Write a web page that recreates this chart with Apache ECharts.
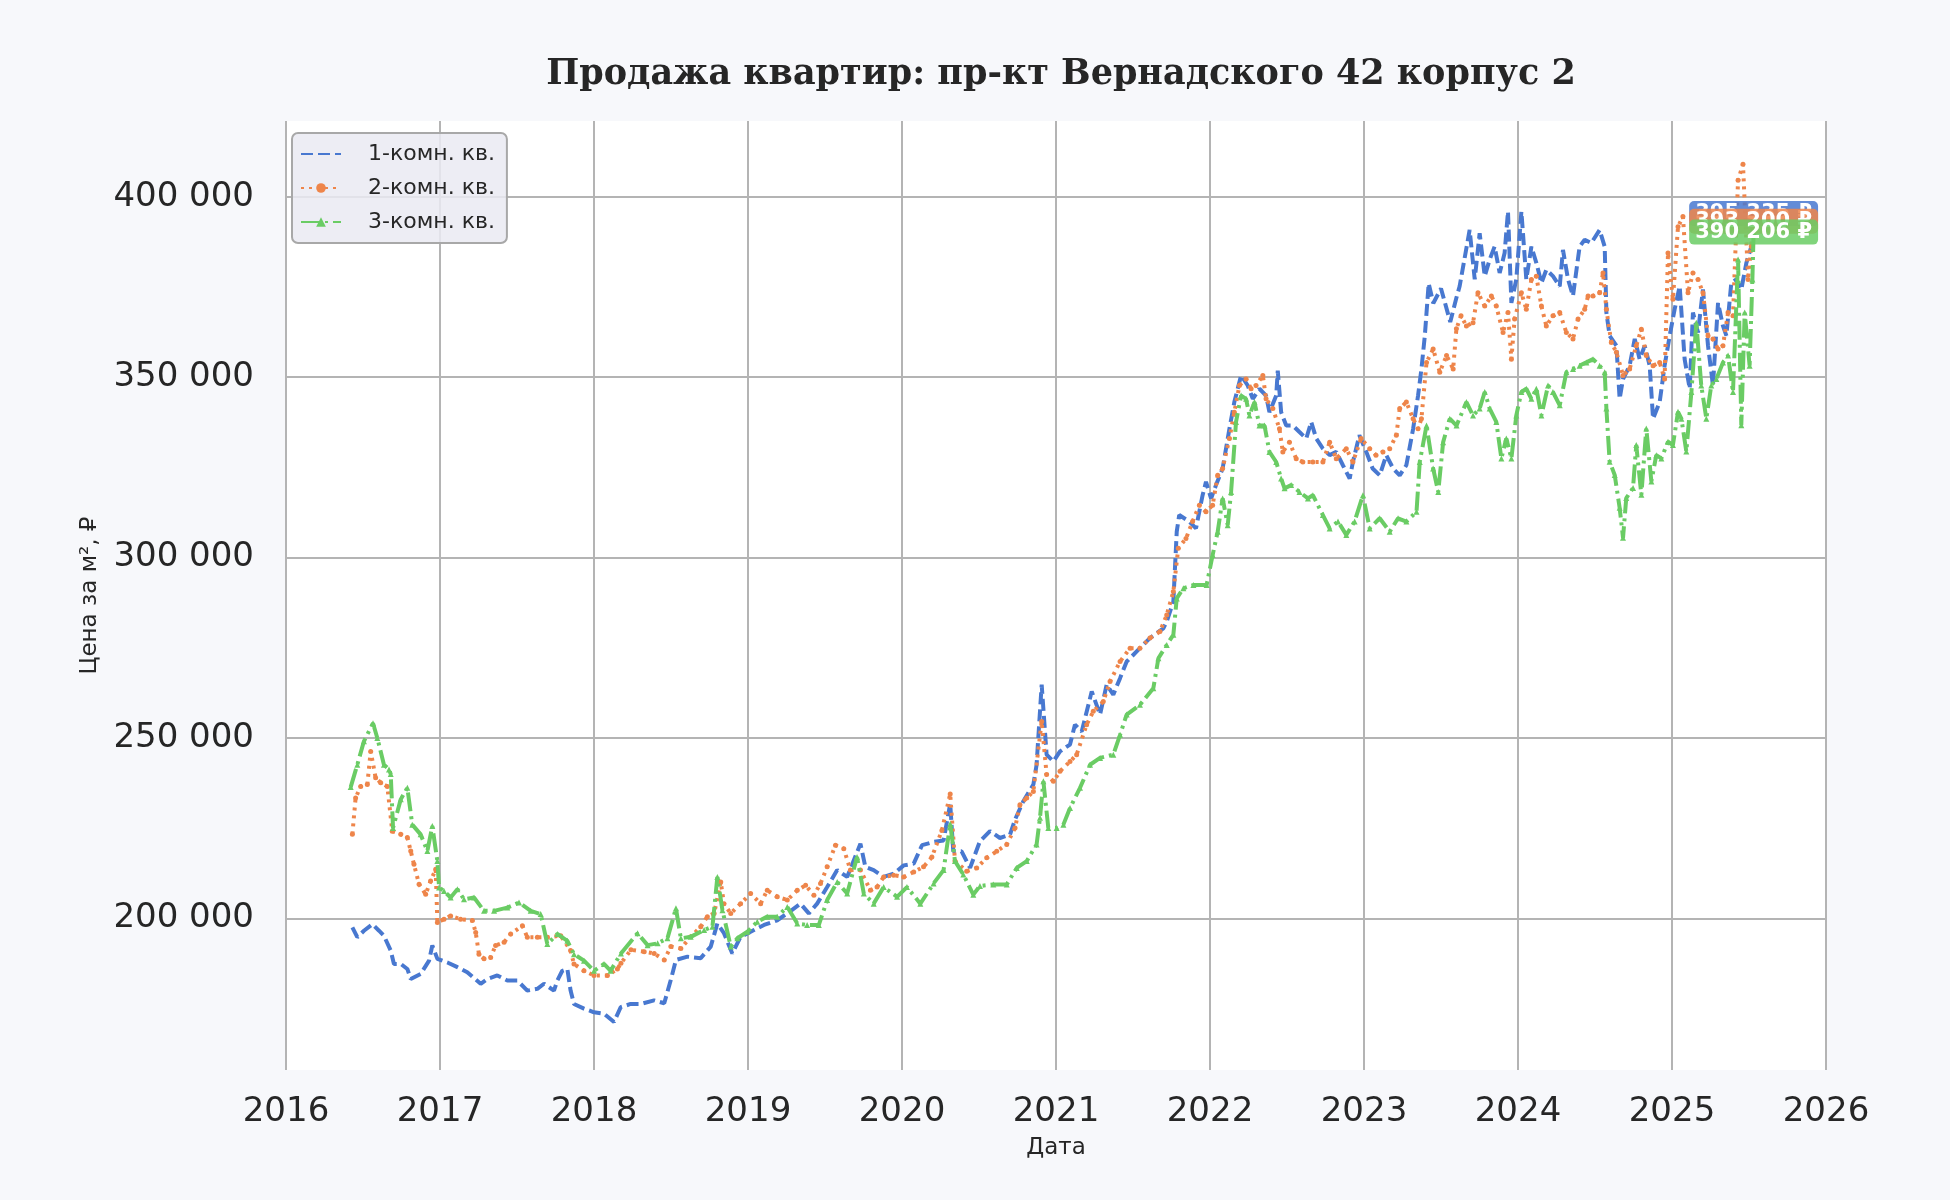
<!DOCTYPE html>
<html>
<head>
<meta charset="utf-8">
<script src="https://cdn.jsdelivr.net/npm/echarts@6/dist/echarts.min.js"></script>
<style>
  html, body { margin: 0; padding: 0; background: #f7f8fb; }
  #chart_container { width: 1950px; height: 1200px; }
</style>
</head>
<body>
<div id="chart_container"></div>
<script>
// x values are decimal years
var seriesNames = ["1-комн. кв.", "2-комн. кв.", "3-комн. кв."];
var yTicks = [200000, 250000, 300000, 350000, 400000];

var room1Years = [2016.431,2016.463,2016.506,2016.561,2016.604,2016.636,2016.680,2016.701,2016.745,2016.788,2016.810,2016.874,2016.929,2016.950,2016.983,2017.048,2017.113,2017.177,2017.264,2017.307,2017.372,2017.437,2017.502,2017.567,2017.632,2017.675,2017.740,2017.762,2017.794,2017.827,2017.848,2017.870,2017.935,2018.000,2018.065,2018.130,2018.173,2018.238,2018.303,2018.390,2018.456,2018.499,2018.532,2018.607,2018.693,2018.758,2018.801,2018.844,2018.898,2018.952,2019.039,2019.104,2019.190,2019.255,2019.341,2019.395,2019.449,2019.514,2019.579,2019.644,2019.730,2019.762,2019.816,2019.881,2019.946,2020.011,2020.076,2020.130,2020.205,2020.270,2020.313,2020.333,2020.387,2020.442,2020.506,2020.571,2020.636,2020.701,2020.734,2020.788,2020.853,2020.874,2020.907,2020.939,2020.983,2021.026,2021.091,2021.123,2021.167,2021.232,2021.286,2021.329,2021.372,2021.416,2021.459,2021.545,2021.610,2021.697,2021.719,2021.762,2021.784,2021.800,2021.866,2021.909,2021.952,2021.974,2022.007,2022.039,2022.082,2022.126,2022.158,2022.202,2022.245,2022.278,2022.321,2022.364,2022.386,2022.430,2022.440,2022.462,2022.495,2022.538,2022.581,2022.625,2022.657,2022.690,2022.733,2022.777,2022.820,2022.863,2022.907,2022.928,2022.970,2023.015,2023.056,2023.102,2023.145,2023.189,2023.232,2023.275,2023.319,2023.351,2023.373,2023.395,2023.420,2023.450,2023.500,2023.560,2023.600,2023.621,2023.686,2023.719,2023.751,2023.784,2023.816,2023.848,2023.881,2023.913,2023.935,2023.957,2023.989,2024.022,2024.054,2024.087,2024.119,2024.152,2024.184,2024.227,2024.271,2024.292,2024.325,2024.357,2024.400,2024.433,2024.476,2024.530,2024.563,2024.574,2024.595,2024.639,2024.660,2024.682,2024.725,2024.758,2024.790,2024.823,2024.855,2024.877,2024.920,2024.952,2024.985,2025.017,2025.050,2025.082,2025.115,2025.136,2025.169,2025.201,2025.234,2025.266,2025.299,2025.331,2025.353,2025.385,2025.418,2025.450,2025.483,2025.515,2025.530];
var room1Prices = [197500,194800,196600,198400,196600,195200,191100,187400,187400,186000,183200,184600,188300,192500,188800,187800,186500,185100,181900,183200,184200,182800,182800,180000,180500,181900,180000,182800,185500,186000,180000,176300,175000,174000,173600,171300,175400,176300,176300,177300,176500,183000,188500,189400,189000,192200,198600,195900,190300,194900,196800,198200,199500,201400,204100,201400,204100,208700,213400,211500,220700,214300,213400,211500,212400,214700,215200,220300,221200,221600,231800,218600,218600,214000,221400,224200,222300,223200,227400,232500,237100,242600,264800,245400,243500,246300,248200,253700,251800,262900,256500,264800,262000,266600,271200,274900,277700,280400,282300,287800,307200,311800,310000,308100,317300,321000,316400,320100,324700,335700,343100,350500,347700,344000,346800,344900,340300,344900,351800,340300,336600,336600,334800,333000,337600,333000,330200,328400,329300,325600,321900,326500,333900,329300,324700,322800,328400,324700,322800,325600,335700,344900,352300,361500,376000,370500,374600,365300,372000,375200,390800,377100,389900,378000,382600,386200,378900,384400,395900,370600,377100,395900,377100,386200,381700,376100,379800,378000,375200,385300,377100,372500,386200,388100,387200,390800,386200,367900,361500,358700,344000,349500,353200,360600,355000,358700,353200,338500,343100,353200,361500,368800,375200,355000,346800,367900,362400,374300,358700,347700,370600,364200,361500,376100,377100,374300,381700,386200,395335];

var room2Years = [2016.431,2016.452,2016.485,2016.528,2016.550,2016.582,2016.615,2016.658,2016.690,2016.745,2016.788,2016.810,2016.831,2016.864,2016.907,2016.939,2016.972,2016.983,2017.026,2017.069,2017.134,2017.210,2017.232,2017.253,2017.286,2017.329,2017.361,2017.416,2017.459,2017.535,2017.567,2017.632,2017.697,2017.784,2017.848,2017.870,2017.935,2018.000,2018.087,2018.152,2018.175,2018.240,2018.326,2018.391,2018.456,2018.499,2018.564,2018.628,2018.693,2018.736,2018.780,2018.823,2018.844,2018.888,2018.952,2019.017,2019.082,2019.125,2019.190,2019.255,2019.320,2019.374,2019.428,2019.471,2019.514,2019.568,2019.622,2019.665,2019.730,2019.795,2019.838,2019.881,2019.946,2020.011,2020.076,2020.140,2020.194,2020.259,2020.313,2020.344,2020.420,2020.485,2020.550,2020.615,2020.680,2020.734,2020.766,2020.810,2020.853,2020.907,2020.939,2020.983,2021.026,2021.091,2021.134,2021.199,2021.242,2021.307,2021.351,2021.416,2021.481,2021.545,2021.610,2021.675,2021.719,2021.762,2021.794,2021.844,2021.887,2021.931,2021.974,2022.017,2022.050,2022.082,2022.126,2022.158,2022.191,2022.234,2022.267,2022.299,2022.343,2022.364,2022.408,2022.451,2022.473,2022.516,2022.560,2022.603,2022.668,2022.733,2022.777,2022.820,2022.885,2022.928,2022.981,2023.037,2023.078,2023.123,2023.167,2023.210,2023.232,2023.275,2023.319,2023.351,2023.373,2023.406,2023.449,2023.492,2023.536,2023.579,2023.600,2023.630,2023.665,2023.708,2023.740,2023.784,2023.827,2023.859,2023.903,2023.935,2023.957,2023.978,2024.022,2024.054,2024.087,2024.119,2024.152,2024.184,2024.227,2024.271,2024.314,2024.357,2024.390,2024.433,2024.455,2024.487,2024.530,2024.552,2024.574,2024.606,2024.639,2024.682,2024.725,2024.768,2024.801,2024.833,2024.877,2024.920,2024.952,2024.974,2025.006,2025.039,2025.071,2025.104,2025.136,2025.169,2025.201,2025.234,2025.266,2025.299,2025.331,2025.364,2025.396,2025.429,2025.461,2025.494,2025.515,2025.530];
var room2Prices = [223300,233400,236600,237100,246300,239000,237600,236600,224200,223300,222400,218700,215000,209500,206700,210400,213600,198900,199800,200700,199800,199400,196100,190100,188800,189200,192500,193400,195700,198000,194800,194800,194800,195200,191100,187400,185500,184200,184200,186000,187600,191300,190800,190300,188500,192200,191700,194900,197700,200500,201400,210100,204100,201400,204100,206900,204100,207800,206000,205100,207800,209200,206400,209700,214300,220300,219300,213400,213400,207800,208700,211500,212000,211500,212900,214300,217000,224400,234500,215900,213100,214000,216800,218600,220500,225100,231500,233400,235200,254600,239900,238000,240800,243500,245400,253700,257400,260100,265700,271200,274900,274900,277700,279500,284100,290600,302600,305300,310000,314500,312700,314500,322800,324700,333000,340300,347700,349500,346800,347700,350500,344000,341300,335700,329300,332000,327400,326500,326500,326500,332000,327400,330200,326500,333000,330200,328400,329300,330200,333900,341300,343100,338500,335700,338500,354100,357800,351400,356000,352300,363400,367000,364200,365100,373400,369700,372500,369700,362400,367900,355000,366100,373400,368800,377100,378000,369700,364200,367000,367900,362400,360600,366100,368800,372500,372500,373400,378900,368800,359600,356900,350500,352300,358700,363300,356000,353200,354100,349500,384400,371600,391700,394500,373400,378900,377100,373400,361500,360600,357800,358700,367900,367000,404600,409000,377100,386200,393200];

var room3Years = [2016.420,2016.463,2016.506,2016.565,2016.593,2016.636,2016.669,2016.680,2016.695,2016.745,2016.788,2016.820,2016.874,2016.918,2016.950,2016.983,2016.994,2017.026,2017.069,2017.113,2017.156,2017.221,2017.286,2017.351,2017.437,2017.513,2017.589,2017.654,2017.697,2017.762,2017.827,2017.870,2017.935,2018.000,2018.065,2018.108,2018.175,2018.283,2018.348,2018.413,2018.477,2018.532,2018.564,2018.628,2018.715,2018.769,2018.801,2018.834,2018.888,2018.931,2018.996,2019.060,2019.125,2019.190,2019.255,2019.320,2019.384,2019.460,2019.514,2019.579,2019.644,2019.708,2019.752,2019.816,2019.881,2019.968,2020.032,2020.119,2020.205,2020.270,2020.313,2020.344,2020.398,2020.463,2020.506,2020.593,2020.680,2020.745,2020.810,2020.874,2020.896,2020.918,2020.950,2021.004,2021.048,2021.091,2021.156,2021.221,2021.286,2021.372,2021.416,2021.459,2021.545,2021.632,2021.665,2021.719,2021.762,2021.784,2021.827,2021.892,2021.978,2022.017,2022.050,2022.082,2022.115,2022.137,2022.169,2022.202,2022.234,2022.256,2022.289,2022.321,2022.354,2022.386,2022.430,2022.462,2022.484,2022.527,2022.581,2022.636,2022.668,2022.733,2022.777,2022.831,2022.885,2022.939,2022.993,2023.037,2023.102,2023.167,2023.221,2023.275,2023.341,2023.362,2023.406,2023.449,2023.482,2023.514,2023.557,2023.601,2023.665,2023.708,2023.751,2023.784,2023.816,2023.859,2023.892,2023.924,2023.957,2023.989,2024.022,2024.054,2024.087,2024.119,2024.152,2024.195,2024.227,2024.271,2024.314,2024.357,2024.400,2024.444,2024.487,2024.530,2024.563,2024.574,2024.595,2024.628,2024.660,2024.682,2024.703,2024.747,2024.768,2024.801,2024.833,2024.866,2024.898,2024.931,2024.974,2025.006,2025.039,2025.061,2025.093,2025.126,2025.158,2025.190,2025.223,2025.255,2025.288,2025.331,2025.364,2025.396,2025.429,2025.450,2025.472,2025.504,2025.522,2025.530];
var room3Prices = [236400,242600,249100,254100,250000,242600,241300,240000,225100,233000,236200,226000,223300,218700,225600,215900,208600,207600,205800,208100,205300,205800,202100,202100,203000,204400,202100,201200,192900,195700,193800,190100,188300,185500,187400,185500,190300,195900,192600,193100,194500,202800,194500,194900,196800,197700,211500,202300,192200,194500,196300,199100,200500,200500,203200,198600,198200,198200,205100,210100,206900,217000,206900,204100,208700,206000,208700,204100,209700,213400,226200,215900,212200,206600,209000,209400,209400,214000,215900,220500,227900,238000,225100,225100,226000,230600,236200,242600,244500,245400,250900,256500,259200,263800,272100,275800,278600,288700,291500,292400,292400,300700,307200,316400,309000,318200,337600,344900,344000,339400,343100,336600,336600,329300,326500,321900,319200,320100,318200,316400,317300,311800,308100,310000,306300,310000,317300,308100,310900,307200,310900,310000,312700,326500,336600,324700,318200,332000,338500,336600,343100,339400,341300,345900,341300,337600,327500,333000,327500,339400,345900,346800,344000,346800,339400,347700,345900,342200,351400,352300,353200,354100,355000,353200,351400,341300,326600,322900,313800,305500,316500,319300,331200,317400,335800,321100,328400,327500,332100,331200,340400,338500,329400,345900,365100,347700,338500,347700,349500,354100,356000,345900,382600,336700,367900,353200,377100,390206];

var colors = ["#4878d0", "#ee854a", "#6acc64"];
var labelBg = ["rgba(72,120,208,0.85)", "rgba(238,133,74,0.85)", "rgba(106,204,100,0.85)"];
var dashes = [[12, 5], [3, 5], [19, 5, 3, 5]];
var symbols = ["none", "circle", "triangle"];

function fmt(v) {
  return String(Math.round(v)).replace(/\B(?=(\d{3})+(?!\d))/g, " ");
}

function pairs(xs, ys) {
  return xs.map(function (x, i) { return [x, ys[i]]; });
}

var allYears = [room1Years, room2Years, room3Years];
var allPrices = [room1Prices, room2Prices, room3Prices];

var dom = document.getElementById("chart_container");
var myChart = echarts.init(dom, null, { renderer: "canvas" });

var series = seriesNames.map(function (name, i) {
  var xs = allYears[i], ys = allPrices[i];
  var last = xs.length - 1;
  return {
    name: name,
    type: "line",
    data: pairs(xs, ys),
    symbol: symbols[i],
    symbolSize: i === 2 ? 6 : 5,
    showAllSymbol: true,
    color: colors[i],
    itemStyle: { color: colors[i] },
    lineStyle: { width: 4, type: dashes[i], color: colors[i] },
    animation: false,
    z: 2 + i,
    markPoint: {
      symbol: "circle",
      symbolSize: 1,
      itemStyle: { color: "rgba(0,0,0,0)" },
      data: [{ coord: [xs[last], ys[last]], value: ys[last] }],
      label: {
        show: true,
        position: "inside",
        formatter: function (p) { return fmt(p.value) + " ₽"; },
        color: "#ffffff",
        fontFamily: "DejaVu Sans",
        fontWeight: "bold",
        fontSize: 21,
        backgroundColor: labelBg[i],
        borderRadius: 5,
        padding: [2, 6, 2, 6]
      }
    }
  };
});

var option = {
  backgroundColor: "#f7f8fb",
  title: {
    text: "Продажа квартир: пр-кт Вернадского 42 корпус 2",
    left: 1056,
    top: 52,
    textAlign: "center",
    textStyle: {
      fontFamily: "DejaVu Serif",
      fontWeight: "bold",
      fontSize: 35,
      color: "#262626"
    }
  },
  legend: {
    orient: "vertical",
    left: 292,
    top: 133,
    backgroundColor: "rgba(234,234,242,0.85)",
    borderColor: "#a8a8a8",
    borderWidth: 2,
    borderRadius: 6,
    padding: [10, 12, 10, 8],
    itemWidth: 40,
    itemHeight: 12,
    itemGap: 12,
    textStyle: { fontFamily: "DejaVu Sans", fontSize: 22, color: "#262626", padding: [0, 0, 0, 22] },
    data: [
      { name: seriesNames[0], itemStyle: { opacity: 0 } },
      { name: seriesNames[1] },
      { name: seriesNames[2] }
    ]
  },
  grid: {
    left: 286,
    right: 124,
    top: 121,
    bottom: 130,
    show: true,
    backgroundColor: "#ffffff",
    borderWidth: 0
  },
  xAxis: {
    type: "value",
    min: 2016,
    max: 2026,
    interval: 1,
    name: "Дата",
    nameLocation: "middle",
    nameGap: 67,
    nameTextStyle: { fontFamily: "DejaVu Sans", fontSize: 23, color: "#262626" },
    axisLine: { show: false },
    axisTick: { show: false },
    axisLabel: {
      margin: 25,
      fontFamily: "DejaVu Sans",
      fontSize: 34,
      color: "#262626",
      formatter: function (v) { return String(v); }
    },
    splitLine: { show: true, lineStyle: { color: "#b4b4b4", width: 2 } }
  },
  yAxis: {
    type: "value",
    min: 158000,
    max: 421000,
    name: "Цена за м², ₽",
    nameLocation: "middle",
    nameGap: 184,
    nameTextStyle: { fontFamily: "DejaVu Sans", fontSize: 23, color: "#262626" },
    axisLine: { show: false },
    axisTick: { show: false, customValues: yTicks },
    axisLabel: {
      customValues: yTicks,
      margin: 32,
      padding: [6, 0, 0, 0],
      fontFamily: "DejaVu Sans",
      fontSize: 34,
      color: "#262626",
      formatter: function (v) { return fmt(v); }
    },
    splitLine: { show: true, lineStyle: { color: "#b4b4b4", width: 2 } }
  },
  series: series
};

myChart.setOption(option);
window.addEventListener("resize", myChart.resize);
</script>
</body>
</html>
